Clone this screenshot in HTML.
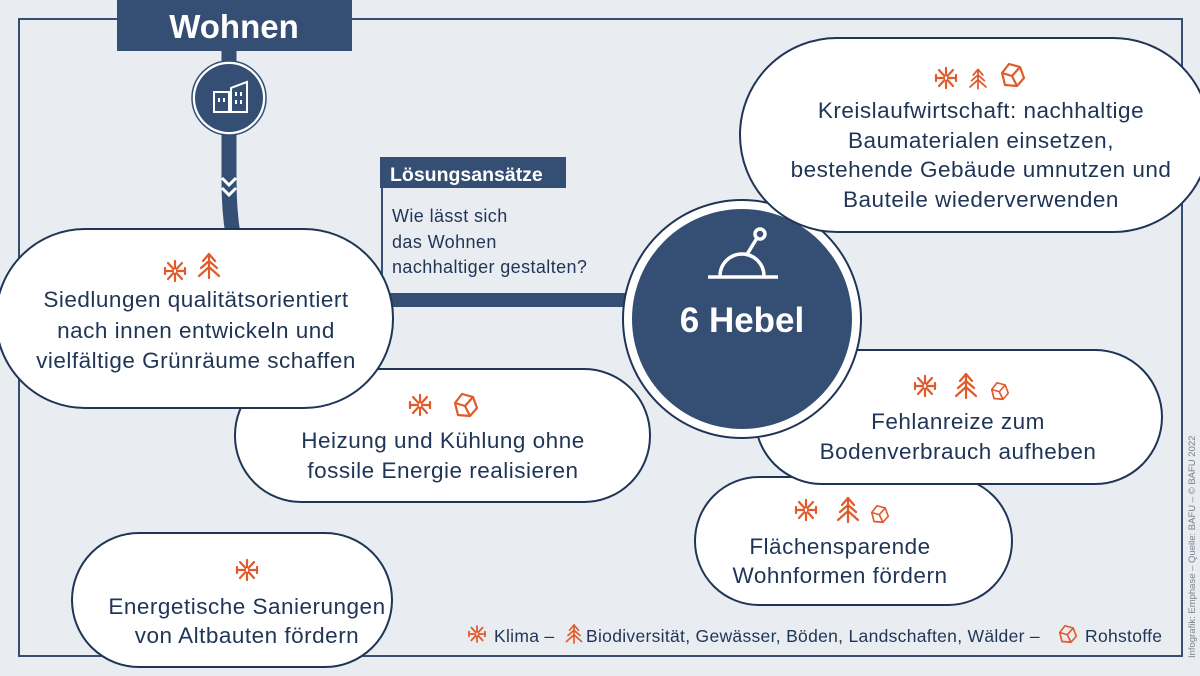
<!DOCTYPE html>
<html><head><meta charset="utf-8"><style>
html,body{margin:0;padding:0;background:#e9ecf1;}
svg{display:block;font-family:"Liberation Sans",sans-serif;}
.t{fill:#1f3556;font-size:22.5px;letter-spacing:0.5px;text-anchor:middle;}
.p{fill:#fff;stroke:#1f3556;stroke-width:2;}
</style></head><body>
<svg width="1200" height="676" viewBox="0 0 1200 676" xmlns="http://www.w3.org/2000/svg">
<defs>
<g id="klima" fill="none" stroke="#e05a2b" stroke-width="2.2" stroke-linecap="round">
 <line x1="-2" y1="0" x2="-10" y2="0"/><line x1="2" y1="0" x2="10" y2="0"/>
 <line x1="-1.5" y1="-2" x2="-7" y2="-8"/><line x1="1.5" y1="-2" x2="7" y2="-8"/>
 <line x1="-1.5" y1="2" x2="-7" y2="8"/><line x1="1.5" y1="2" x2="7" y2="8"/>
 <line x1="0" y1="-3" x2="0" y2="-10"/><line x1="0" y1="3" x2="0" y2="10"/>
 <line x1="-10" y1="-3" x2="-10" y2="3"/><line x1="10" y1="-3" x2="10" y2="3"/>
</g>
<g id="tree" fill="none" stroke="#e05a2b" stroke-width="2.2" stroke-linecap="round" stroke-linejoin="round">
 <line x1="0" y1="-12" x2="0" y2="12"/>
 <polyline points="-6,-5 0,-12 6,-5"/><polyline points="-8,2 0,-5 8,2"/><polyline points="-10,10 0,1 10,10"/>
</g>
<g id="rock" fill="none" stroke="#e05a2b" stroke-width="2.2" stroke-linejoin="round">
 <polygon points="-4,-11 7,-8 11,3 4,11 -8,10 -11,-2"/>
 <polyline points="-11,-2 -1,1 4,11"/><line x1="-1" y1="1" x2="7" y2="-8"/>
</g>
</defs>
<rect x="19" y="19" width="1163" height="637" fill="none" stroke="#344f73" stroke-width="2"/>
<rect x="117" y="0" width="235" height="51" fill="#344f73"/>
<text x="234" y="38" fill="#fff" font-size="33" font-weight="bold" text-anchor="middle">Wohnen</text>
<path d="M229 50 L229 180 Q229 210 233 235" stroke="#344f73" stroke-width="15" fill="none"/>
<circle cx="229" cy="98" r="37" fill="#fff"/>
<circle cx="229" cy="98" r="37" fill="none" stroke="#344f73" stroke-width="1.5"/>
<circle cx="229" cy="98" r="34" fill="#344f73"/>
<g fill="none" stroke="#fff" stroke-width="2"><rect x="214" y="92" width="15" height="20"/><polygon points="231,112 231,88 247,82 247,112"/><line x1="213" y1="112" x2="248" y2="112"/>
<line x1="236" y1="92" x2="236" y2="96"/><line x1="241" y1="92" x2="241" y2="96"/><line x1="236" y1="100" x2="236" y2="104"/><line x1="241" y1="100" x2="241" y2="104"/><line x1="219" y1="98" x2="219" y2="102"/><line x1="224" y1="98" x2="224" y2="102"/></g>
<polyline points="222,178 229,185 236,178" stroke="#fff" stroke-width="3" fill="none"/>
<polyline points="222,188 229,195 236,188" stroke="#fff" stroke-width="3" fill="none"/>
<path d="M382 188 L382 300" stroke="#344f73" stroke-width="2"/>
<rect x="380" y="157" width="186" height="31" fill="#344f73"/>
<text x="390" y="181" fill="#fff" font-size="19.5" font-weight="bold">Lösungsansätze</text>
<text fill="#1f3556" font-size="18" letter-spacing="0.4"><tspan x="392" y="222">Wie lässt sich</tspan><tspan x="392" y="248">das Wohnen</tspan><tspan x="392" y="273">nachhaltiger gestalten?</tspan></text>
<rect x="382" y="293" width="250" height="14" fill="#344f73"/>
<rect class="p" x="695" y="477" width="317" height="128" rx="64"/>
<text class="t"><tspan x="840" y="554">Flächensparende</tspan><tspan x="840" y="583">Wohnformen fördern</tspan></text>
<use href="#klima" x="806" y="510"/><use href="#tree" x="848" y="510"/><use href="#rock" transform="translate(880,514) scale(0.75)"/>
<rect class="p" x="755" y="350" width="407" height="134" rx="67"/>
<text class="t"><tspan x="958" y="429">Fehlanreize zum</tspan><tspan x="958" y="459">Bodenverbrauch aufheben</tspan></text>
<use href="#klima" x="925" y="386"/><use href="#tree" x="966" y="386"/><use href="#rock" transform="translate(1000,391) scale(0.75)"/>
<circle cx="742" cy="319" r="119" fill="#fff" stroke="#1f3556" stroke-width="2"/>
<circle cx="742" cy="319" r="110" fill="#344f73"/>
<g stroke="#fff" stroke-width="3.5" fill="none"><line x1="708" y1="277" x2="778" y2="277"/><path d="M720 276 A22 22 0 0 1 764 276"/><line x1="746" y1="256" x2="757" y2="238"/><circle cx="760" cy="234" r="5"/></g>
<text x="742" y="332" fill="#fff" font-size="35" font-weight="bold" text-anchor="middle">6 Hebel</text>
<rect class="p" x="740" y="38" width="470" height="194" rx="97"/>
<text class="t"><tspan x="981" y="118">Kreislaufwirtschaft: nachhaltige</tspan><tspan x="981" y="148">Baumaterialen einsetzen,</tspan><tspan x="981" y="177">bestehende Gebäude umnutzen und</tspan><tspan x="981" y="207">Bauteile wiederverwenden</tspan></text>
<use href="#klima" x="946" y="78"/><use href="#tree" transform="translate(978,79) scale(0.8)"/><use href="#rock" x="1013" y="75"/>
<rect class="p" x="235" y="369" width="415" height="133" rx="66"/>
<text class="t"><tspan x="443" y="448">Heizung und Kühlung ohne</tspan><tspan x="443" y="478">fossile Energie realisieren</tspan></text>
<use href="#klima" x="420" y="405"/><use href="#rock" x="466" y="405"/>
<rect class="p" x="-4" y="229" width="397" height="179" rx="89"/>
<text class="t"><tspan x="196" y="307">Siedlungen qualitätsorientiert</tspan><tspan x="196" y="338">nach innen entwickeln und</tspan><tspan x="196" y="368">vielfältige Grünräume schaffen</tspan></text>
<use href="#klima" x="175" y="271"/><use href="#tree" x="209" y="266"/>
<rect class="p" x="72" y="533" width="320" height="134" rx="67"/>
<text class="t"><tspan x="247" y="614">Energetische Sanierungen</tspan><tspan x="247" y="643">von Altbauten fördern</tspan></text>
<use href="#klima" x="247" y="570"/>
<use href="#klima" transform="translate(477,634) scale(0.8)"/>
<use href="#tree" transform="translate(574,634) scale(0.75)"/>
<use href="#rock" transform="translate(1068,634) scale(0.75)"/>
<text fill="#1f3556" font-size="17.5" letter-spacing="0.3"><tspan x="494" y="642">Klima –</tspan><tspan x="586" y="642">Biodiversität, Gewässer, Böden, Landschaften, Wälder –</tspan><tspan x="1085" y="642">Rohstoffe</tspan></text>
<text transform="translate(1195,658) rotate(-90)" fill="#7a8290" font-size="9.5">Infografik: Emphase – Quelle: BAFU – © BAFU 2022</text>
</svg>
</body></html>
